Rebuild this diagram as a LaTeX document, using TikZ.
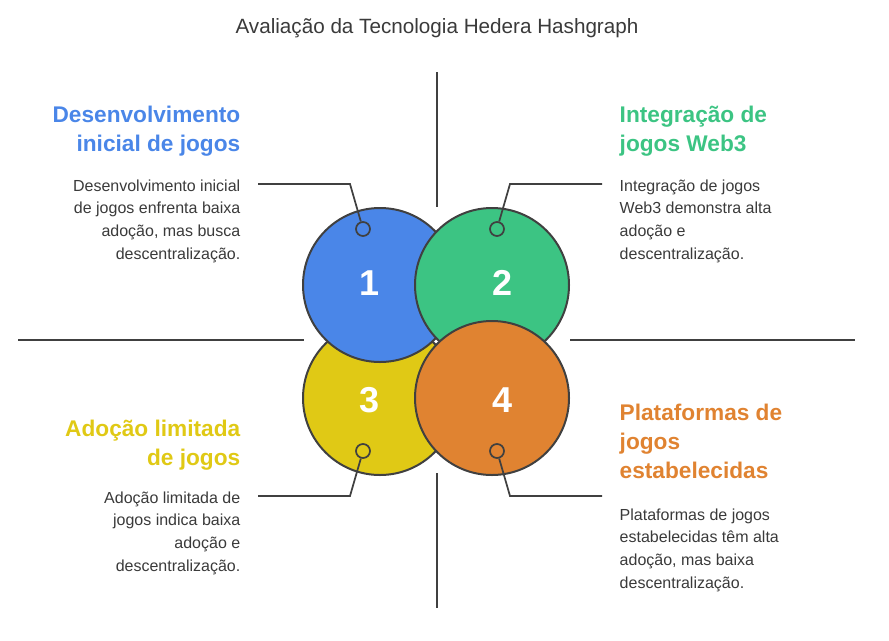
\documentclass[tikz,border=0pt]{standalone}
\usepackage{fontspec}
\setmainfont{Liberation Sans}
\definecolor{cblue}{HTML}{4A86E8}
\definecolor{cgreen}{HTML}{3CC483}
\definecolor{cyellow}{HTML}{E0C915}
\definecolor{corange}{HTML}{E08331}
\definecolor{cline}{HTML}{404040}
\definecolor{ctext}{HTML}{3A3A3A}
\begin{document}
\begin{tikzpicture}[x=0.75pt, y=-0.75pt,
	bigcirc/.style={draw=cline, line width=1.5pt, circle, minimum size=154*0.75pt, inner sep=0pt},
	num/.style={font=\fontsize{27}{27}\selectfont\bfseries, text=white},
	marker/.style={draw=cline, line width=1.3pt, circle, minimum size=14*0.75pt, inner sep=0pt},
	lead/.style={draw=cline, line width=1.3pt},
	head/.style={font=\fontsize{17}{22}\selectfont\bfseries, align=#1},
	body/.style={font=\fontsize{12}{17}\selectfont, text=ctext, align=#1}]

	\useasboundingbox (0,0) rectangle (889,640);

	%title
	\node [font=\fontsize{15.5}{18}\selectfont, text=ctext] (title) at (437,28) {Avaliação da Tecnologia Hedera Hashgraph};

	%quadrant lines
	\draw [lead] (437,72) -- (437,207);
	\draw [lead] (437,473) -- (437,608);
	\draw [lead] (18,340) -- (304,340);
	\draw [lead] (570,340) -- (855,340);

	%circles
	\node [bigcirc, fill=cyellow] (c3) at (380,398) {};
	\node [bigcirc, fill=cblue] (c1) at (380,285) {};
	\node [bigcirc, fill=cgreen] (c2) at (492,285) {};
	\node [bigcirc, fill=corange] (c4) at (492,398) {};
	\node [num] (n1) at (370,283) {1};
	\node [num] (n2) at (503,283) {2};
	\node [num] (n3) at (370,400) {3};
	\node [num] (n4) at (503,400) {4};

	%markers and leaders
	\node [marker] (m1) at (363,229) {};
	\node [marker] (m2) at (497,229) {};
	\node [marker] (m3) at (363,451) {};
	\node [marker] (m4) at (497,451) {};
	\coordinate (e1) at (258,184);
	\coordinate (e2) at (602,184);
	\coordinate (e3) at (258,496);
	\coordinate (e4) at (602,496);
	\draw [lead] (m1) -- (350,184) -- (e1);
	\draw [lead] (m2) -- (510,184) -- (e2);
	\draw [lead] (m3) -- (350,496) -- (e3);
	\draw [lead] (m4) -- (510,496) -- (e4);

	%texts
	\node [head=right, text=cblue, anchor=north east] (h1) at (245,101) {Desenvolvimento\\inicial de jogos};
	\node [body=right, anchor=north east] (b1) at (245,175) {Desenvolvimento inicial\\de jogos enfrenta baixa\\adoção, mas busca\\descentralização.};
	\node [head=left, text=cgreen, anchor=north west] (h2) at (615,101) {Integração de\\jogos Web3};
	\node [body=left, anchor=north west] (b2) at (615,175) {Integração de jogos\\Web3 demonstra alta\\adoção e\\descentralização.};
	\node [head=right, text=cyellow, anchor=north east] (h3) at (245,415) {Adoção limitada\\de jogos};
	\node [body=right, anchor=north east] (b3) at (245,487) {Adoção limitada de\\jogos indica baixa\\adoção e\\descentralização.};
	\node [head=left, text=corange, anchor=north west] (h4) at (615,399) {Plataformas de\\jogos\\estabelecidas};
	\node [body=left, anchor=north west] (b4) at (615,504) {Plataformas de jogos\\estabelecidas têm alta\\adoção, mas baixa\\descentralização.};

\end{tikzpicture}
\end{document}
